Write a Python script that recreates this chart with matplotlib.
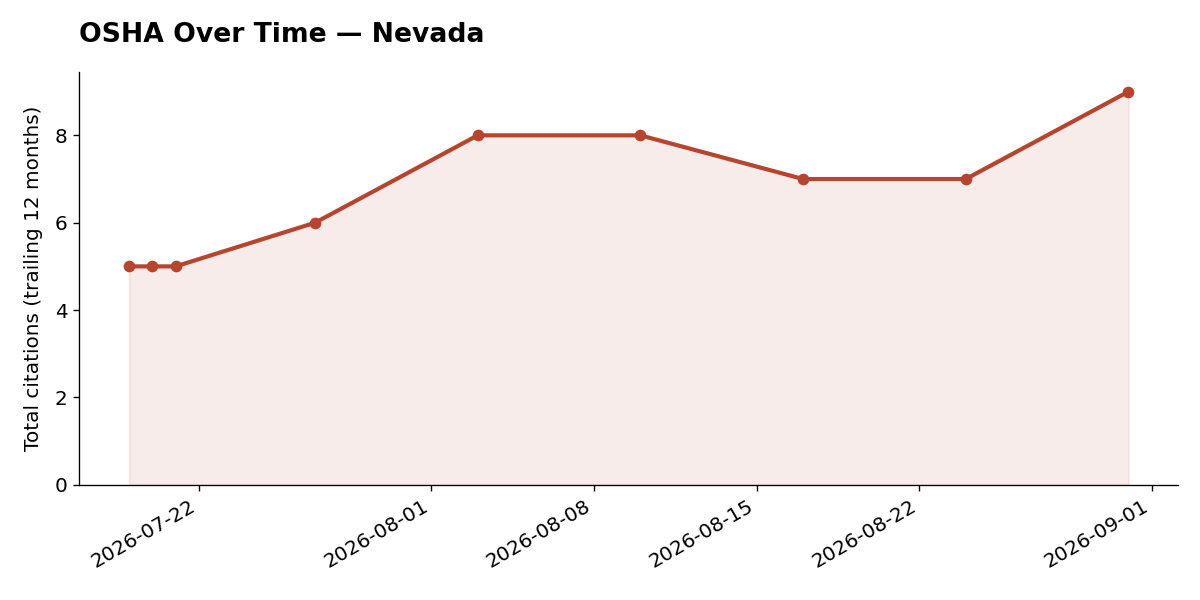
import matplotlib
matplotlib.use("Agg")
import matplotlib.pyplot as plt
import matplotlib.dates as mdates
from datetime import date

# trailing 12-month citation totals per snapshot
dates = [date(2026, 7, 19), date(2026, 7, 20), date(2026, 7, 21), date(2026, 7, 27),
         date(2026, 8, 3), date(2026, 8, 10), date(2026, 8, 17), date(2026, 8, 24),
         date(2026, 8, 31)]
citations = [5, 5, 5, 6, 8, 8, 7, 7, 9]

color = "#b5452f"

fig, ax = plt.subplots(figsize=(10, 5), dpi=120)
ax.plot(dates, citations, color=color, linewidth=2.5, marker="o", markersize=6)
ax.fill_between(dates, citations, 0, color=color, alpha=0.1)

ax.set_ylim(0, 9.45)
ax.set_ylabel("Total citations (trailing 12 months)", fontsize=12, labelpad=7)
ax.set_title("OSHA Over Time \u2014 Nevada", fontsize=16, fontweight="bold", loc="left", pad=18)
ax.tick_params(labelsize=12)
ax.spines["top"].set_visible(False)
ax.spines["right"].set_visible(False)
ax.xaxis.set_major_formatter(mdates.DateFormatter("%Y-%m-%d"))
fig.autofmt_xdate()

fig.subplots_adjust(left=0.066, right=0.982, top=0.88, bottom=0.192)
fig.savefig("out.png")
